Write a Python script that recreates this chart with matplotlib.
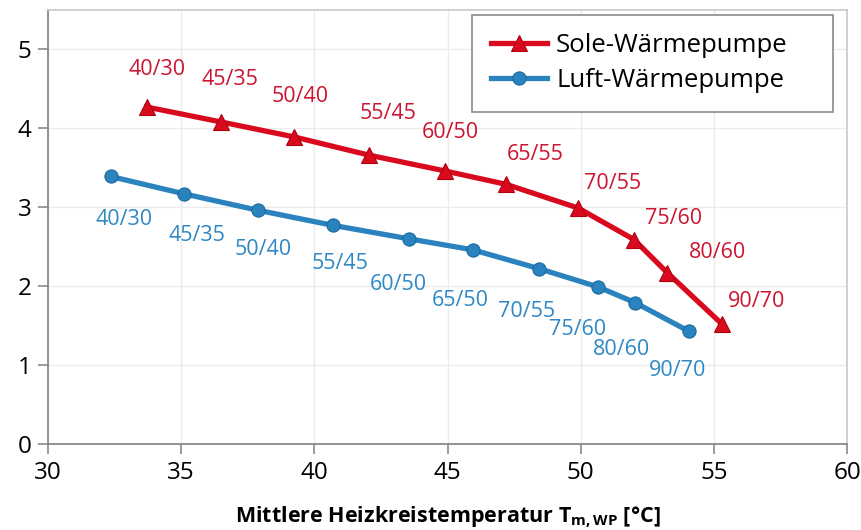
import matplotlib
matplotlib.use("Agg")
import matplotlib.pyplot as plt

plt.rcParams["font.family"] = ["Open Sans", "DejaVu Sans"]
plt.rcParams["mathtext.fontset"] = "custom"
plt.rcParams["mathtext.rm"] = "Open Sans"
plt.rcParams["mathtext.bf"] = "Open Sans:bold"

# Sole-Wärmepumpe (brine)
sole_x = [33.7, 36.5, 39.25, 42.05, 44.9, 47.2, 49.9, 52.0, 53.25, 55.3]
sole_y = [4.27, 4.08, 3.89, 3.66, 3.46, 3.29, 2.99, 2.59, 2.17, 1.52]
sole_labels = ["40/30", "45/35", "50/40", "55/45", "60/50",
               "65/55", "70/55", "75/60", "80/60", "90/70"]

# Luft-Wärmepumpe (air)
luft_x = [32.35, 35.1, 37.9, 40.7, 43.55, 45.95, 48.45, 50.65, 52.05, 54.05]
luft_y = [3.39, 3.17, 2.96, 2.77, 2.60, 2.46, 2.22, 1.99, 1.79, 1.43]
luft_labels = ["40/30", "45/35", "50/40", "55/45", "60/50",
               "65/50", "70/55", "75/60", "80/60", "90/70"]

# label offsets in pixels (dx, dy; dy positive = down)
sole_off = [(10, -37), (9, -42), (6, -40), (19, -42), (5, -38),
            (29, -30), (34, -25), (40, -21), (50, -20), (35, -23)]
luft_off = [(13, 43), (13, 42), (5, 39), (7, 38), (-11, 46),
            (-13, 51), (-13, 43), (-20, 43), (-14, 47), (-11, 39)]

red = "#DA0A1E"
blue = "#2A82BE"

fig = plt.figure(figsize=(8.62, 5.3), dpi=100)
ax = fig.add_axes([0.0557, 0.1623, 0.927, 0.819])

ax.plot(sole_x, sole_y, color=red, lw=3.8, marker="^", ms=12,
        mec="#B00010", mew=0.8, label="Sole-Wärmepumpe", zorder=3)
ax.plot(luft_x, luft_y, color=blue, lw=3.8, marker="o", ms=9.5,
        mec="#1A6A9E", mew=0.8, label="Luft-Wärmepumpe", zorder=3)

for x, y, t, (dx, dy) in zip(sole_x, sole_y, sole_labels, sole_off):
    ax.annotate(t, (x, y), xytext=(dx * 0.72, -dy * 0.72), textcoords="offset points",
                ha="center", va="center", color="#CC1530", fontsize=15.5)
for x, y, t, (dx, dy) in zip(luft_x, luft_y, luft_labels, luft_off):
    ax.annotate(t, (x, y), xytext=(dx * 0.72, -dy * 0.72), textcoords="offset points",
                ha="center", va="center", color="#2E88C4", fontsize=15.5)

ax.set_xlim(30, 60)
ax.set_ylim(0, 5.5)
ax.set_xticks([30, 35, 40, 45, 50, 55, 60])
ax.set_yticks([0, 1, 2, 3, 4, 5])
ax.tick_params(labelsize=17.5, length=7, width=1.2, color="#8a8a8a", direction="out", pad=5)
ax.grid(True, color="#ececec", lw=1)
ax.set_axisbelow(True)
for s in ["left", "bottom"]:
    ax.spines[s].set_color("#8a8a8a")
    ax.spines[s].set_linewidth(1.3)
for s in ["top", "right"]:
    ax.spines[s].set_color("#c8c8c8")
    ax.spines[s].set_linewidth(1.2)

ax.set_xlabel(r"Mittlere Heizkreistemperatur $\mathbf{T_{m,WP}}$ [°C]",
              fontsize=15.5, fontweight="bold", labelpad=14)

# wide Excel-style legend box
leg = ax.legend(loc="upper left", mode="expand", fontsize=18.5, fancybox=False,
                framealpha=1, edgecolor="#8a8a8a", handlelength=2.2,
                borderpad=0.72, labelspacing=0.38, handletextpad=0.35,
                bbox_to_anchor=(0.5307, 0.9885, 0.4518, 0.0), borderaxespad=0)
leg.get_frame().set_linewidth(1.2)

fig.savefig("out.png", dpi=100)
